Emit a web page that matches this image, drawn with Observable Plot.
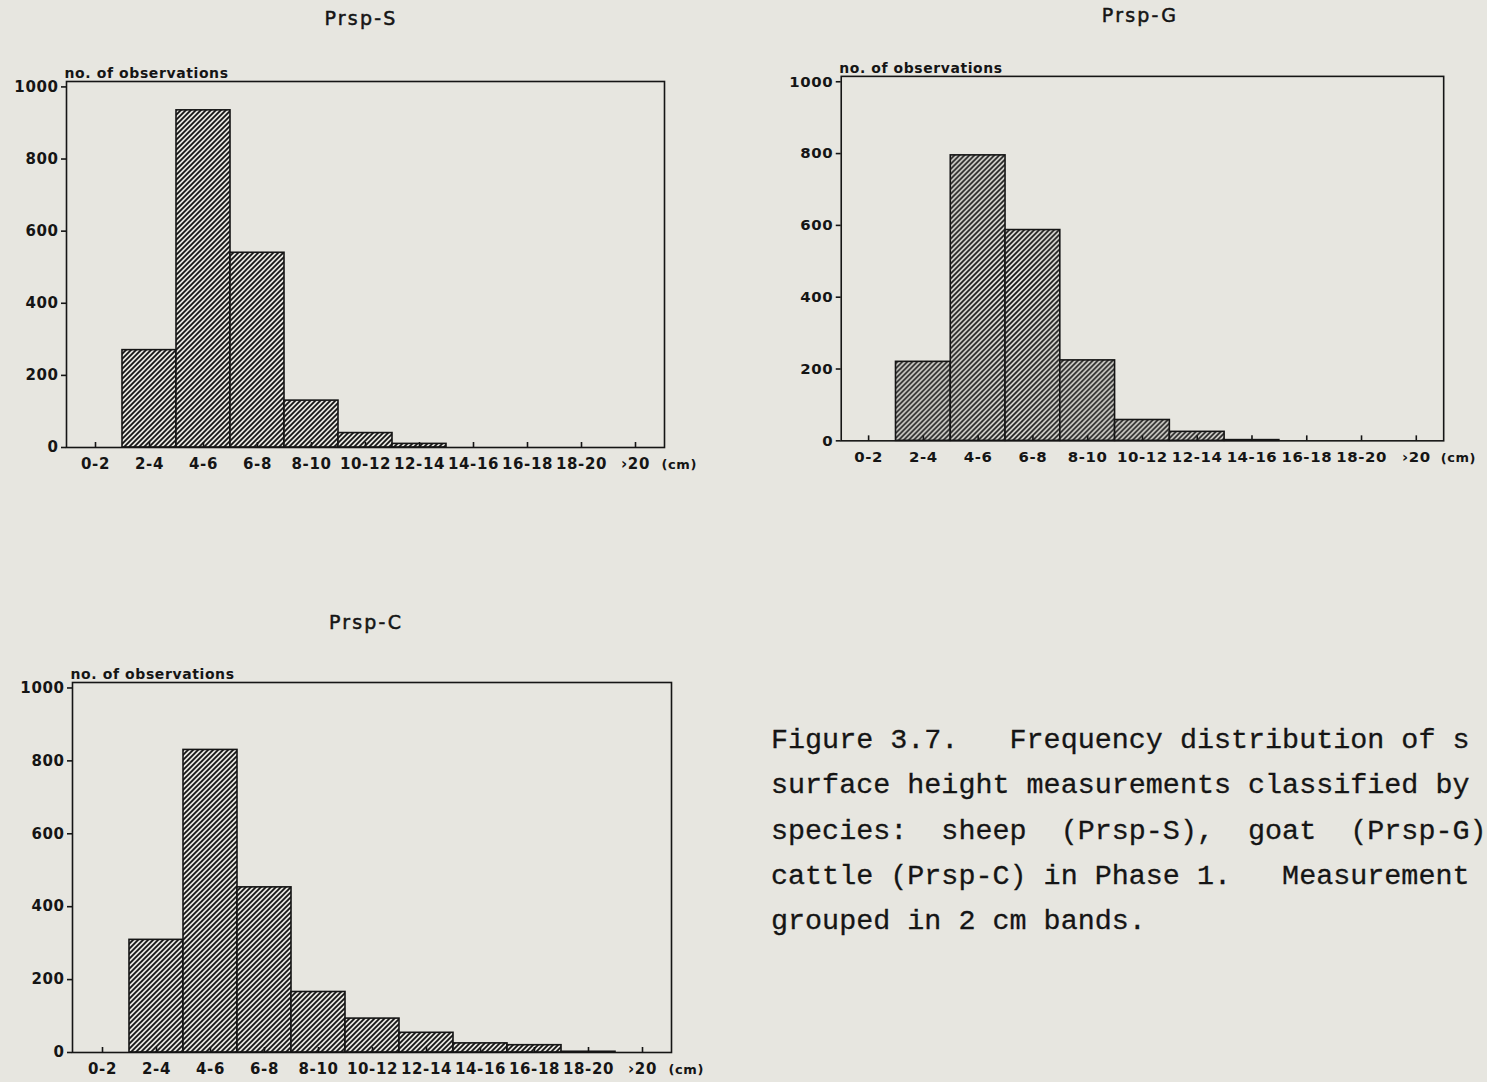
<!DOCTYPE html>
<html>
<head>
<meta charset="utf-8">
<script src="https://cdn.jsdelivr.net/npm/d3@7"></script>
<script src="https://cdn.jsdelivr.net/npm/@observablehq/plot@0.6"></script>
<style>
  html, body { margin: 0; padding: 0; width: 1487px; height: 1082px; overflow: hidden; background: #e7e6e0; }
  #page { position: relative; width: 1487px; height: 1082px; }
  .title { position: absolute; font-family: "DejaVu Sans", sans-serif; font-size: 19px; line-height: 22px;
           letter-spacing: 2.2px; color: #151515; transform: translateX(-50%); white-space: nowrap;
           -webkit-text-stroke: 0.5px #151515; }
  .chart { position: absolute; }
  #caption { position: absolute; left: 771px; top: 718px; font-family: "Liberation Mono", monospace;
             font-size: 28.4px; line-height: 45.3px; white-space: pre; color: #151515;
             -webkit-text-stroke: 0.3px #151515; }
</style>
</head>
<body>
<div id="page"></div>
<script>
// ---- data ----
const bands = ["0-2", "2-4", "4-6", "6-8", "8-10", "10-12", "12-14", "14-16", "16-18", "18-20", "›20"];
const prspS = [0, 270, 935, 540, 130, 40, 10, 0, 0, 0, 0];
const prspG = [0, 220, 795, 587, 224, 58, 25, 2, 0, 0, 0];
const prspC = [0, 309, 830, 453, 166, 93, 54, 25, 20, 2, 0];
const yTicks = [0, 200, 400, 600, 800, 1000];
const titles = ["Prsp-S", "Prsp-G", "Prsp-C"];
const yLabel = "no. of observations";
const unitLabel = "(cm)";
const captionLines = [
  "Figure 3.7.   Frequency distribution of s",
  "surface height measurements classified by",
  "species:  sheep  (Prsp-S),  goat  (Prsp-G)",
  "cattle (Prsp-C) in Phase 1.   Measurement",
  "grouped in 2 cm bands."
];

const page = document.getElementById("page");
const ink = "#151515";
const paper = "#e7e6e0";

function makeChart(values, title, id, plotLeft, plotTop, plotWidth, plotHeight, titleX, titleY) {
  const marginLeft = 66, marginRight = 44, marginTop = 30, marginBottom = 34;
  const data = bands.map((b, i) => ({band: b, value: values[i]}));
  const svg = Plot.plot({
    width: marginLeft + plotWidth + marginRight,
    height: marginTop + plotHeight + marginBottom,
    marginLeft, marginRight, marginTop, marginBottom,
    style: {background: "transparent", fontFamily: "DejaVu Sans", fontWeight: "bold", fontSize: "15px",
            color: ink, overflow: "visible", letterSpacing: "0.6px"},
    x: {type: "band", domain: bands, padding: 0, label: null},
    y: {domain: [0, 1015], label: null},
    marks: [
      Plot.barY(data, {x: "band", y: "value", fill: ink, stroke: ink, strokeWidth: 1.6, className: "hatch-" + id}),
      Plot.frame({stroke: ink, strokeWidth: 1.6}),
      Plot.axisY({ticks: yTicks, tickFormat: d => String(d), tickSize: 5, tickPadding: 3, label: null, strokeWidth: 1.6}),
      Plot.axisX({tickSize: -5, tickPadding: 16, label: null, strokeWidth: 1.6}),
      Plot.text([yLabel], {frameAnchor: "top-left", textAnchor: "start", dx: -2, dy: -13, fontSize: 14, fill: ink}),
      Plot.text([unitLabel], {frameAnchor: "bottom-right", textAnchor: "start", dx: -3, dy: 17, lineAnchor: "middle", fontSize: 13, fill: ink})
    ]
  });
  const s = d3.select(svg);
  const defs = s.insert("defs", ":first-child");
  const pat = defs.append("pattern").attr("id", "pat-" + id)
    .attr("patternUnits", "userSpaceOnUse").attr("width", 5).attr("height", 5);
  pat.append("rect").attr("width", 5).attr("height", 5).attr("fill", paper);
  pat.append("path").attr("d", "M-1,1 L1,-1 M0,5 L5,0 M4,6 L6,4")
    .attr("stroke", ink).attr("stroke-width", 1.8);
  s.selectAll(".hatch-" + id).attr("fill", `url(#pat-${id})`);

  const wrap = document.createElement("div");
  wrap.className = "chart";
  wrap.style.left = (plotLeft - marginLeft) + "px";
  wrap.style.top = (plotTop - marginTop) + "px";
  wrap.appendChild(svg);
  page.appendChild(wrap);

  const t = document.createElement("div");
  t.className = "title";
  t.textContent = title;
  t.style.left = titleX + "px";
  t.style.top = titleY + "px";
  page.appendChild(t);
}

makeChart(prspS, titles[0], "s", 66, 81, 598, 366, 361, 7);
makeChart(prspG, titles[1], "g", 841, 76, 605, 366, 1140, 4);
makeChart(prspC, titles[2], "c", 72, 682, 599, 370, 366, 611);

const cap = document.createElement("div");
cap.id = "caption";
cap.textContent = captionLines.join("\n");
page.appendChild(cap);
</script>
</body>
</html>
